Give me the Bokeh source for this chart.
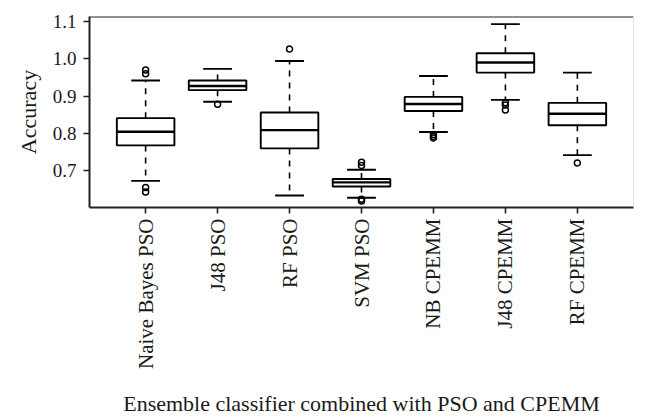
import math
from bokeh.plotting import figure
from bokeh.models import Range1d, FixedTicker, PrintfTickFormatter, Span, ColumnDataSource
from bokeh.embed import file_html
from bokeh.resources import INLINE

# ---- data ----
categories = ["Naive Bayes PSO", "J48 PSO", "RF PSO", "SVM PSO",
              "NB CPEMM", "J48 CPEMM", "RF CPEMM"]
whisker_low = [0.673, 0.885, 0.634, 0.628, 0.804, 0.890, 0.742]
quart1 = [0.768, 0.916, 0.760, 0.658, 0.860, 0.963, 0.822]
median = [0.8045, 0.927, 0.809, 0.669, 0.879, 0.990, 0.853]
quart3 = [0.841, 0.942, 0.856, 0.678, 0.898, 1.015, 0.882]
whisker_high = [0.942, 0.973, 0.994, 0.703, 0.954, 1.093, 0.963]
outliers = [
    [0.970, 0.960, 0.655, 0.643],
    [0.878],
    [1.026],
    [0.723, 0.714, 0.624, 0.619],
    [0.797, 0.792, 0.788],
    [0.882, 0.876, 0.863],
    [0.721],
]
y_ticks = [0.7, 0.8, 0.9, 1.0, 1.1]

FONT = "Liberation Serif"
BOX_W = 0.8
CAP_W = 0.4

pos = list(range(1, len(categories) + 1))

x_range = Range1d(0.22, len(categories) + 0.78)
y_range = Range1d(0.6017, 1.1133)

p = figure(width=645, height=418, x_range=x_range, y_range=y_range,
           output_backend="svg", toolbar_location=None,
           min_border_left=89, min_border_right=12,
           min_border_top=16, min_border_bottom=210)
p.outline_line_color = None
p.background_fill_color = "white"
p.border_fill_color = "white"
p.xgrid.visible = False
p.ygrid.visible = False

src = ColumnDataSource(dict(x=pos, lo=whisker_low, q1=quart1, med=median,
                            q3=quart3, hi=whisker_high))

# whiskers (dashed)
p.segment(x0="x", y0="q3", x1="x", y1="hi", source=src,
          line_color="black", line_width=1.6, line_dash="6 6")
p.segment(x0="x", y0="q1", x1="x", y1="lo", source=src,
          line_color="black", line_width=1.6, line_dash="6 6")
# staples
src2 = ColumnDataSource(dict(x0=[x - CAP_W / 2 for x in pos],
                             x1=[x + CAP_W / 2 for x in pos],
                             lo=whisker_low, hi=whisker_high))
p.segment(x0="x0", y0="hi", x1="x1", y1="hi", source=src2,
          line_color="black", line_width=1.9)
p.segment(x0="x0", y0="lo", x1="x1", y1="lo", source=src2,
          line_color="black", line_width=1.9)
# boxes
p.vbar(x="x", width=BOX_W, bottom="q1", top="q3", source=src,
       fill_color="white", line_color="black", line_width=1.9)
# medians
src3 = ColumnDataSource(dict(x0=[x - BOX_W / 2 for x in pos],
                             x1=[x + BOX_W / 2 for x in pos], med=median))
p.segment(x0="x0", y0="med", x1="x1", y1="med", source=src3,
          line_color="black", line_width=2.4)
# outliers
ox, oy = [], []
for x, vals in zip(pos, outliers):
    for v in vals:
        ox.append(x)
        oy.append(v)
p.scatter(ox, oy, marker="circle", size=6, fill_color=None,
          line_color="black", line_width=1.5)

# frame top (dark) and right (light)
p.add_layout(Span(location=y_range.end, dimension="width",
                  line_color="#222222", line_width=2))
p.add_layout(Span(location=x_range.end, dimension="height",
                  line_color="#c8c8c8", line_width=1))

# axes
for ax in (p.xaxis[0], p.yaxis[0]):
    ax.axis_line_color = "#222222"
    ax.axis_line_width = 2
    ax.major_tick_line_color = "#222222"
    ax.major_tick_line_width = 1.6
    ax.major_tick_in = 0
    ax.major_tick_out = 6
    ax.minor_tick_line_color = None
    ax.major_label_text_font = FONT
    ax.major_label_text_color = "#1a1a1a"
    ax.axis_label_text_font = FONT
    ax.axis_label_text_font_style = "normal"
    ax.axis_label_text_color = "#1a1a1a"
    ax.axis_label_text_font_size = "22px"

p.xaxis.ticker = FixedTicker(ticks=pos)
p.xaxis.major_label_overrides = {x: c for x, c in zip(pos, categories)}
p.xaxis.major_label_orientation = math.pi / 2
p.xaxis.major_label_text_font_size = "21px"
p.xaxis.major_label_standoff = 5
p.xaxis.axis_label = "Ensemble classifier combined with PSO and CPEMM"
p.xaxis.axis_label_standoff = 19

p.yaxis.ticker = FixedTicker(ticks=y_ticks)
p.yaxis.formatter = PrintfTickFormatter(format="%.1f")
p.yaxis.major_label_text_font_size = "19px"
p.yaxis.major_label_standoff = 7
p.yaxis.axis_label = "Accuracy"
p.yaxis.axis_label_standoff = 9

open("out.html", "w").write(file_html(p, INLINE))
